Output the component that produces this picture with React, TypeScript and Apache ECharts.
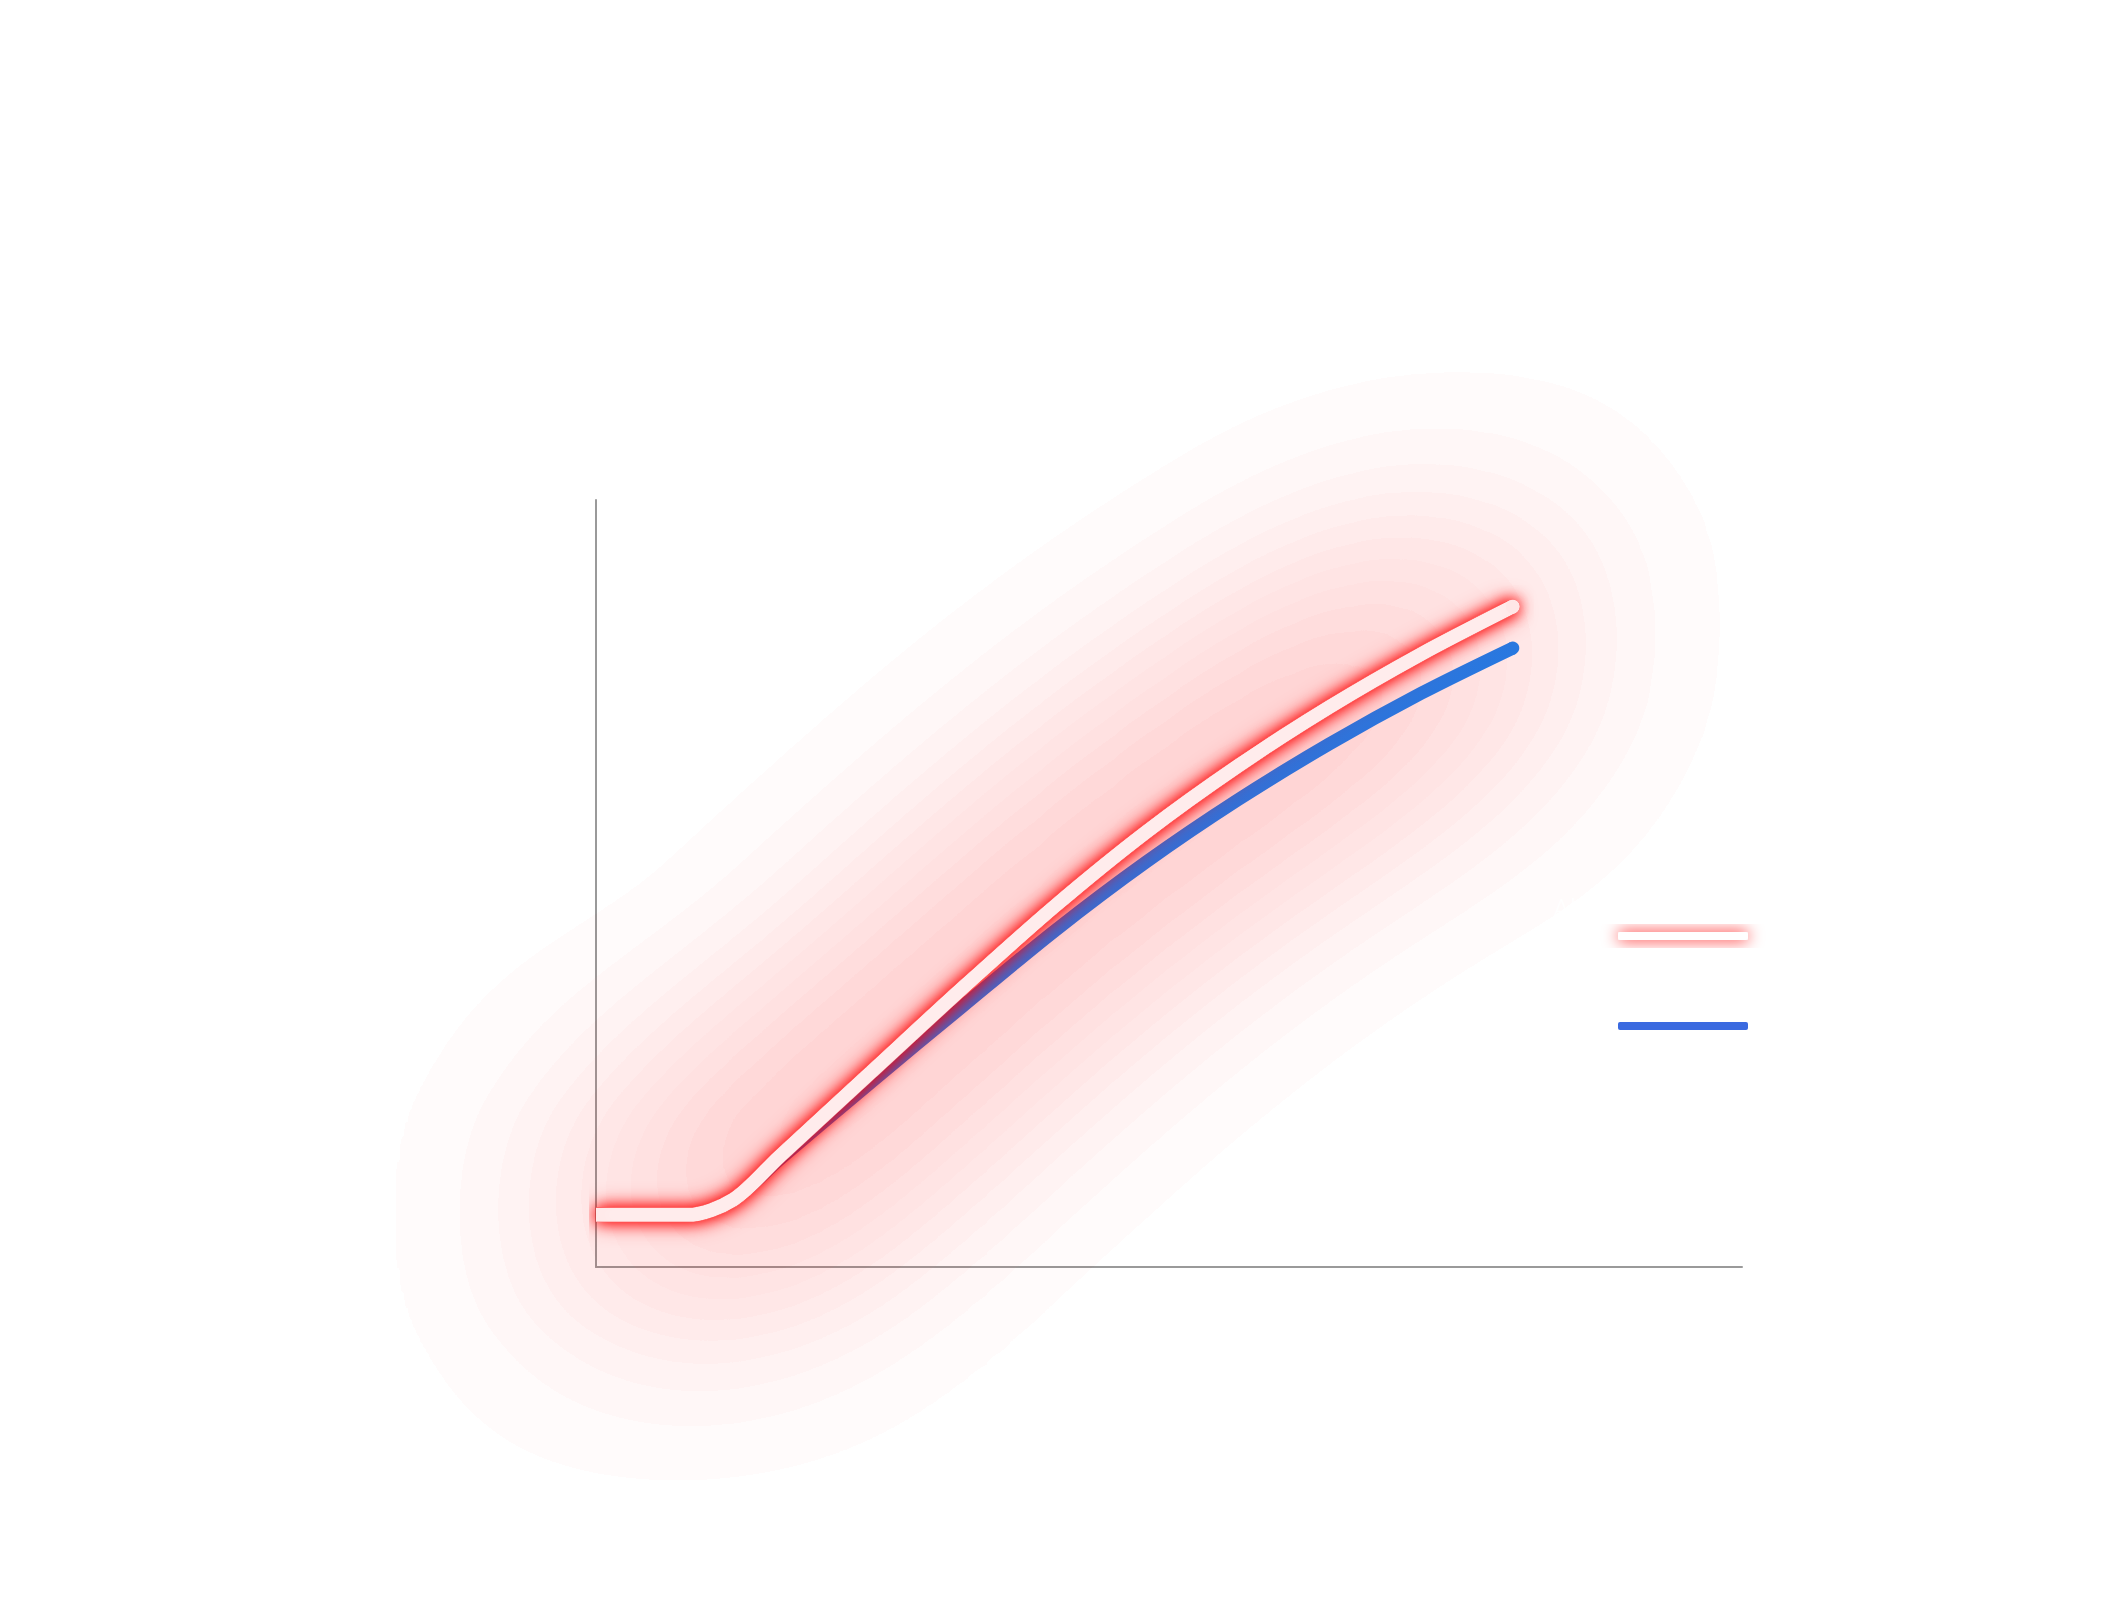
import React, { useEffect, useRef } from "react";
import * as echarts from "echarts";

const titleText = "Alkaid Performance";
const subtitleText = "First Use vs. After 10,000 Uses";
const seriesNames = ["Alkaid-First Use", "Alkaid-After 10,000 Uses"];
const usesX = [0, 1000, 1500, 2000, 3000, 4000, 5000, 6000, 7000, 8000, 9000, 10000];
const firstUse = [6.8, 6.8, 8.8, 14.4, 25.4, 36.4, 47.0, 56.7, 65.3, 73.0, 79.9, 86.1];
const after10k = [6.8, 6.8, 8.8, 14.0, 24.1, 34.0, 43.8, 52.8, 60.9, 68.2, 74.8, 80.7];
const xMax = 12500;
const yMax = 100;

const W = 2114;
const H = 1620;
const GRID = { left: 596, right: 372, top: 500, bottom: 353 };

export default function App() {
  const ref = useRef<HTMLDivElement>(null);
  useEffect(() => {
    document.body.style.margin = "0";
    const chart = echarts.init(ref.current!, null, { renderer: "svg" });
    const redData = usesX.map((x, i) => [x, firstUse[i]]);
    const blueData = usesX.map((x, i) => [x, after10k[i]]);
    const last = usesX.length - 1;
    const smooth = 0.3;
    // second, full-width grid whose x axis maps values to the same pixels as the main one,
    // so the wide glow is not cut at the plot's left edge
    const plotW = W - GRID.left - GRID.right;
    const pxPerUnit = plotW / xMax;
    const wideMin = -GRID.left / pxPerUnit;
    const wideMax = wideMin + W / pxPerUnit;
    const blueGrad = new echarts.graphic.LinearGradient(0, 0, 1, 0, [
      { offset: 0, color: "#4c5cc0" },
      { offset: 1, color: "#2878e0" },
    ]);
    const glow = [0, 1, 2, 3].map((k) => ({
      name: "glow" + k,
      type: "line",
      xAxisIndex: 1,
      yAxisIndex: 1,
      data: redData,
      smooth,
      showSymbol: false,
      symbol: "none",
      silent: true,
      clip: false,
      z: 1,
      legendHoverLink: false,
      lineStyle: {
        color: "#ff0000",
        width: 14,
        cap: "butt",
        shadowBlur: 250,
        shadowColor: "#ff0000",
      },
      emphasis: { disabled: true },
    }));
    chart.setOption({
      animation: false,
      backgroundColor: "#ffffff",
      title: {
        text: titleText,
        subtext: subtitleText,
        left: "center",
        top: 215,
        itemGap: 30,
        textStyle: { color: "#ffffff", fontSize: 44, fontWeight: 300, fontFamily: "Noto Sans" },
        subtextStyle: { color: "#ffffff", fontSize: 28, fontFamily: "Noto Sans" },
      },
      legend: {
        orient: "vertical",
        right: 366,
        top: 880,
        align: "right",
        padding: 0,
        itemGap: -22,
        itemWidth: 130,
        itemHeight: 8,
        formatter: (name: string) => name + "\n",
        textStyle: {
          color: "#ffffff",
          fontSize: 28,
          lineHeight: 56,
          fontWeight: 300,
          fontFamily: "Noto Sans",
          padding: [0, -135, 0, 0],
        },
        data: [
          {
            name: seriesNames[0],
            icon: "roundRect",
            itemStyle: { color: "#ffffff", borderWidth: 0, shadowBlur: 16, shadowColor: "#ff0000" },
          },
          {
            name: seriesNames[1],
            icon: "roundRect",
            itemStyle: { color: "#3a6ae0", borderWidth: 0 },
          },
        ],
      },
      grid: [
        { left: GRID.left, right: GRID.right, top: GRID.top, bottom: GRID.bottom },
        { left: 0, right: 0, top: GRID.top, bottom: GRID.bottom },
      ],
      xAxis: [
        {
          type: "value",
          min: 0,
          max: xMax,
          axisLine: { show: true, lineStyle: { color: "#9a9a9a", width: 2 } },
          axisTick: { show: false },
          axisLabel: { show: false },
          splitLine: { show: false },
        },
        { type: "value", gridIndex: 1, min: wideMin, max: wideMax, show: false, splitLine: { show: false } },
      ],
      yAxis: [
        {
          type: "value",
          min: 0,
          max: yMax,
          axisLine: { show: true, lineStyle: { color: "#9a9a9a", width: 2 } },
          axisTick: { show: false },
          axisLabel: { show: false },
          splitLine: { show: false },
        },
        { type: "value", gridIndex: 1, min: 0, max: yMax, show: false, splitLine: { show: false } },
      ],
      series: [
        ...glow,
        {
          name: seriesNames[1],
          type: "line",
          data: blueData,
          smooth,
          showSymbol: false,
          symbol: "none",
          z: 2,
          lineStyle: { width: 13, cap: "butt", color: blueGrad },
          markPoint: {
            silent: true,
            z: 2,
            symbol: "circle",
            symbolSize: 13,
            label: { show: false },
            itemStyle: { color: "#2878e0" },
            data: [{ coord: [usesX[last], after10k[last]] }],
          },
          emphasis: { disabled: true },
        },
        {
          name: "nearGlow",
          type: "line",
          data: redData,
          smooth,
          showSymbol: false,
          symbol: "none",
          silent: true,
          z: 3,
          legendHoverLink: false,
          lineStyle: {
            width: 14,
            cap: "butt",
            color: "#ff0000",
            shadowBlur: 14,
            shadowColor: "#ff0000",
          },
          markPoint: {
            silent: true,
            z: 3,
            symbol: "circle",
            symbolSize: 14,
            label: { show: false },
            itemStyle: { color: "#ff0000", shadowBlur: 16, shadowColor: "#ff0000" },
            data: [{ coord: [usesX[last], firstUse[last]] }],
          },
          emphasis: { disabled: true },
        },
        {
          name: seriesNames[0],
          type: "line",
          data: redData,
          smooth,
          showSymbol: false,
          symbol: "none",
          z: 4,
          lineStyle: {
            width: 14,
            cap: "butt",
            color: "rgba(255,255,255,0.9)",
            shadowBlur: 22,
            shadowColor: "#ff0000",
          },
          markPoint: {
            silent: true,
            z: 5,
            symbol: "circle",
            symbolSize: 14,
            label: { show: false },
            itemStyle: { color: "#ffe6e6" },
            data: [{ coord: [usesX[last], firstUse[last]] }],
          },
          emphasis: { disabled: true },
        },
      ],
    });
    return () => chart.dispose();
  }, []);
  return <div ref={ref} style={{ width: W, height: H }} />;
}
